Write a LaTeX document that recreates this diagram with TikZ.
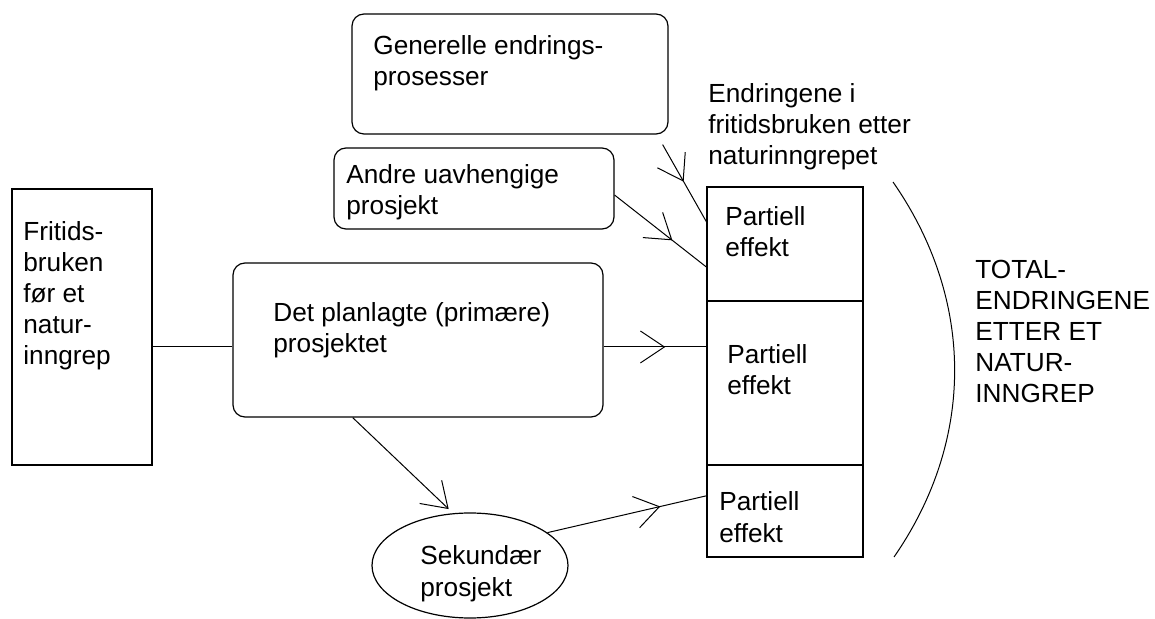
\documentclass[tikz,border=0pt]{standalone}
\usepackage{fontspec}
\setmainfont{Liberation Sans}
\usetikzlibrary{arrows.meta,decorations.markings,shapes.geometric,calc}
\begin{document}
\begin{tikzpicture}[x=0.5pt,y=-0.5pt,
  rbox/.style={draw,rounded corners=6pt,line width=0.6pt,inner sep=0pt},
  sqbox/.style={draw,line width=0.6pt,inner sep=0pt},
  lbl/.style={anchor=base west,inner sep=0pt,align=left,font=\fontsize{13.1}{15.6}\selectfont},
  conn/.style={line width=0.5pt},
  midarrow/.style={postaction={decorate},decoration={markings,mark=at position #1 with {\arrow{Straight Barb[length=12pt,width=16pt,line width=0.5pt]}}}}
]
\fill[white] (0,0) rectangle (1155,619);
\useasboundingbox (0,0) rectangle (1155,619);

% boxes
\node[rbox,minimum width=158pt,minimum height=60pt] (gen) at (510,74) {};
\node[rbox,minimum width=140pt,minimum height=40.5pt] (andre) at (474,188.5) {};
\node[rbox,minimum width=185pt,minimum height=77pt] (plan) at (418,340) {};
\node[sqbox,minimum width=70pt,minimum height=138pt] (frit) at (82,327) {};
\node[sqbox,minimum width=78pt,minimum height=57pt] (part1) at (785,244) {};
\node[sqbox,minimum width=78pt,minimum height=82pt] (part2) at (785,383) {};
\node[sqbox,minimum width=78pt,minimum height=46pt] (part3) at (785,511) {};
\node[draw,ellipse,line width=0.6pt,inner sep=0pt,minimum width=98pt,minimum height=52.5pt] (sek) at (470,565.5) {};

% labels (anchored at the baseline of the last line)
\node[lbl] (tgen) at (373,86) {Generelle endrings-\\prosesser};
\node[lbl] (tandre) at (346,215) {Andre uavhengige\\prosjekt};
\node[lbl] (tplan) at (273,353) {Det planlagte (primære)\\prosjektet};
\node[lbl] (tfrit) at (23,365) {Fritids-\\bruken\\før et\\natur-\\inngrep};
\node[lbl] (tendr) at (708,165) {Endringene i\\fritidsbruken etter\\naturinngrepet};
\node[lbl] (tp1) at (725,257) {Partiell\\effekt};
\node[lbl] (tp2) at (727,395) {Partiell\\effekt};
\node[lbl] (tp3) at (719,542) {Partiell\\effekt};
\node[lbl] (ttot) at (975,403) {TOTAL-\\ENDRINGENE\\ETTER ET\\NATUR-\\INNGREP};
\node[lbl] (tsek) at (420,596) {Sekundær\\prosjekt};

% connectors
\coordinate (fe) at ($(frit.north east)!0.572!(frit.south east)$);
\coordinate (gstart) at ($(gen.south east)+(-6,10)$);
\draw[conn] (fe) -- (plan.west |- fe);
\draw[conn,midarrow=0.6] (plan.east |- fe) -- (part2.west |- fe);
\draw[conn,-{Straight Barb[length=12pt,width=16pt,line width=0.5pt]},shorten >=3pt]
  ($(plan.south west)!0.324!(plan.south east)$) -- (sek.108);
\draw[conn,midarrow=0.71] (sek.23) -- ($(part3.north west)!0.337!(part3.south west)$);
\draw[conn,midarrow=0.63] ($(andre.north east)!0.58!(andre.south east)$) -- ($(part1.north west)!0.70!(part1.south west)$);
\draw[conn,midarrow=0.48] (gstart) -- ($(part1.north west)!0.307!(part1.south west)$);

% right-hand bracket curve
\draw[conn] (893,182) .. controls (975,300) and (975,440) .. (894,557);
\end{tikzpicture}
\end{document}
